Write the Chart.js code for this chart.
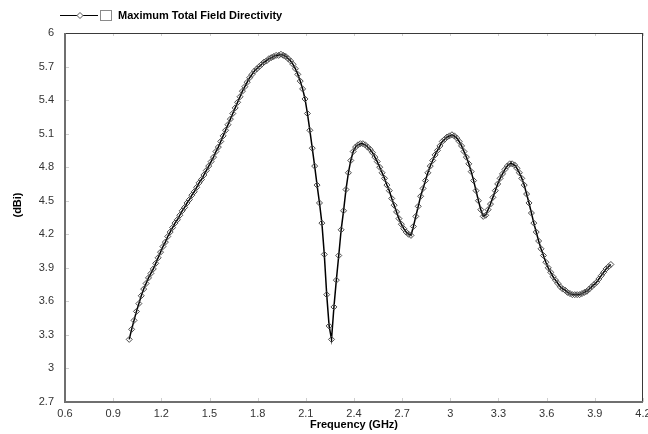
<!DOCTYPE html>
<html lang="en">
<head>
<meta charset="UTF-8">
<title>Maximum Total Field Directivity</title>
<script src="https://cdn.jsdelivr.net/npm/chart.js"></script>
<style>
  body { margin: 0; background: #fff; }
  canvas { display: block; }
</style>
</head>
<body>
<canvas id="dirChart" width="648" height="434"></canvas>
<script>
// frequency sweep (GHz)
var freq = [1.000,1.015,1.030,1.045,1.060,1.075,1.090,1.105,1.120,1.135,
  1.150,1.165,1.180,1.195,1.210,1.225,1.240,1.255,1.270,1.285,
  1.300,1.315,1.330,1.345,1.360,1.375,1.390,1.405,1.420,1.435,
  1.450,1.465,1.480,1.495,1.510,1.525,1.540,1.555,1.570,1.585,
  1.600,1.615,1.630,1.645,1.660,1.675,1.690,1.705,1.720,1.735,
  1.750,1.765,1.780,1.795,1.810,1.825,1.840,1.855,1.870,1.885,
  1.900,1.915,1.930,1.945,1.960,1.975,1.990,2.005,2.020,2.035,
  2.050,2.065,2.080,2.095,2.110,2.125,2.140,2.155,2.170,2.185,
  2.200,2.215,2.230,2.245,2.260,2.275,2.290,2.305,2.320,2.335,
  2.350,2.365,2.380,2.395,2.410,2.425,2.440,2.455,2.470,2.485,
  2.500,2.515,2.530,2.545,2.560,2.575,2.590,2.605,2.620,2.635,
  2.650,2.665,2.680,2.695,2.710,2.725,2.740,2.755,2.770,2.785,
  2.800,2.815,2.830,2.845,2.860,2.875,2.890,2.905,2.920,2.935,
  2.950,2.965,2.980,2.995,3.010,3.025,3.040,3.055,3.070,3.085,
  3.100,3.115,3.130,3.145,3.160,3.175,3.190,3.205,3.220,3.235,
  3.250,3.265,3.280,3.295,3.310,3.325,3.340,3.355,3.370,3.385,
  3.400,3.415,3.430,3.445,3.460,3.475,3.490,3.505,3.520,3.535,
  3.550,3.565,3.580,3.595,3.610,3.625,3.640,3.655,3.670,3.685,
  3.700,3.715,3.730,3.745,3.760,3.775,3.790,3.805,3.820,3.835,
  3.850,3.865,3.880,3.895,3.910,3.925,3.940,3.955,3.970,3.985,
  4.000];

// directivity (dBi)
var directivity = [3.26,3.35,3.43,3.51,3.58,3.65,3.71,3.76,3.81,3.85,
  3.89,3.94,3.99,4.04,4.09,4.13,4.18,4.22,4.26,4.30,
  4.33,4.37,4.41,4.44,4.48,4.51,4.55,4.58,4.62,4.66,
  4.69,4.73,4.77,4.81,4.85,4.89,4.94,4.98,5.03,5.08,
  5.13,5.18,5.23,5.28,5.33,5.38,5.43,5.48,5.52,5.56,
  5.60,5.63,5.66,5.68,5.70,5.72,5.74,5.75,5.77,5.78,
  5.79,5.80,5.80,5.81,5.80,5.79,5.77,5.75,5.72,5.68,
  5.63,5.57,5.50,5.41,5.28,5.13,4.97,4.81,4.64,4.48,
  4.30,4.02,3.66,3.38,3.26,3.55,3.79,4.01,4.24,4.41,
  4.60,4.75,4.86,4.94,4.98,5.00,5.01,5.01,5.00,4.98,
  4.96,4.93,4.89,4.85,4.80,4.75,4.70,4.64,4.59,4.52,
  4.46,4.40,4.34,4.29,4.25,4.22,4.20,4.19,4.27,4.36,
  4.45,4.54,4.61,4.68,4.75,4.81,4.86,4.91,4.95,4.99,
  5.03,5.05,5.07,5.08,5.09,5.08,5.06,5.03,4.99,4.94,
  4.89,4.83,4.76,4.68,4.59,4.50,4.42,4.36,4.37,4.42,
  4.47,4.53,4.59,4.65,4.70,4.74,4.78,4.81,4.83,4.83,
  4.82,4.79,4.75,4.70,4.64,4.56,4.48,4.39,4.30,4.22,
  4.14,4.07,4.01,3.95,3.90,3.86,3.82,3.79,3.76,3.73,
  3.71,3.70,3.68,3.67,3.66,3.66,3.66,3.66,3.67,3.68,
  3.69,3.71,3.73,3.75,3.77,3.80,3.83,3.86,3.89,3.91,
  3.93];

var xTicks = [0.6, 0.9, 1.2, 1.5, 1.8, 2.1, 2.4, 2.7, 3, 3.3, 3.6, 3.9, 4.2];
var yTicks = [2.7, 3, 3.3, 3.6, 3.9, 4.2, 4.5, 4.8, 5.1, 5.4, 5.7, 6];

var seriesName = 'Maximum Total Field Directivity';
var xTitle = 'Frequency (GHz)';
var yTitle = '(dBi)';

function line(ctx, x1, y1, x2, y2) {
    ctx.beginPath();
    ctx.moveTo(x1, y1);
    ctx.lineTo(x2, y2);
    ctx.stroke();
}

function diamond(ctx, cx, cy, r) {
    ctx.beginPath();
    ctx.moveTo(cx, cy - r);
    ctx.lineTo(cx + r, cy);
    ctx.lineTo(cx, cy + r);
    ctx.lineTo(cx - r, cy);
    ctx.closePath();
}

// frame, inner tick marks, legend and y title
const framePlugin = {
    id: 'frame',
    beforeDraw(chart) {
        const ctx = chart.ctx;
        ctx.save();
        ctx.fillStyle = '#fff';
        ctx.fillRect(0, 0, chart.width, chart.height);
        ctx.restore();
    },
    afterDraw(chart) {
        const ctx = chart.ctx;
        const a = chart.chartArea;
        const xs = chart.scales.x, ys = chart.scales.y;
        ctx.save();

        ctx.strokeStyle = '#cfcfcf';
        ctx.lineWidth = 1;
        xTicks.forEach(v => {
            const px = Math.round(xs.getPixelForValue(v)) + 0.5;
            line(ctx, px, a.top, px, a.top + 3);
            line(ctx, px, a.bottom - 4, px, a.bottom);
        });
        yTicks.forEach(v => {
            const py = Math.round(ys.getPixelForValue(v)) + 0.5;
            line(ctx, a.left, py, a.left + 4, py);
        });

        ctx.strokeStyle = '#3a3a3a';
        line(ctx, a.left, a.top + 0.5, a.right, a.top + 0.5);
        line(ctx, a.right - 0.5, a.top, a.right - 0.5, a.bottom);

        ctx.strokeStyle = '#6f6f6f';
        ctx.lineWidth = 2;
        line(ctx, a.left, a.top, a.left, a.bottom + 1);
        line(ctx, a.left - 1, a.bottom, a.right, a.bottom);

        // legend
        ctx.lineWidth = 1;
        ctx.strokeStyle = '#000';
        line(ctx, 60, 15.5, 98, 15.5);
        diamond(ctx, 80, 15.5, 3);
        ctx.fillStyle = '#fff';
        ctx.fill();
        ctx.strokeStyle = '#555';
        ctx.stroke();
        ctx.fillStyle = '#fff';
        ctx.fillRect(100, 10, 12, 11);
        ctx.strokeStyle = '#8a8a8a';
        ctx.strokeRect(100.5, 10.5, 11, 10);
        ctx.fillStyle = '#000';
        ctx.font = 'bold 11px "Liberation Sans", Arial, sans-serif';
        ctx.textBaseline = 'middle';
        ctx.textAlign = 'left';
        ctx.fillText(chart.data.datasets[0].label, 118, 16);

        // y axis title
        ctx.translate(18, 205);
        ctx.rotate(-Math.PI / 2);
        ctx.textAlign = 'center';
        ctx.fillText(yTitle, 0, 0);
        ctx.restore();
    }
};

const ctx = document.getElementById('dirChart').getContext('2d');

const dirChart = new Chart(ctx, {
    type: 'line',
    data: {
        datasets: [{
            label: seriesName,
            data: freq.map((f, i) => ({ x: f, y: directivity[i] })),
            borderColor: '#000',
            borderWidth: 1.5,
            pointStyle: 'rectRot',
            pointRadius: 3,
            pointBorderWidth: 1,
            pointBorderColor: '#4a4a4a',
            pointBackgroundColor: 'rgba(255,255,255,0)',
            tension: 0,
            fill: false
        }]
    },
    options: {
        responsive: false,
        animation: false,
        devicePixelRatio: 1,
        layout: { padding: { top: 33, left: 0, right: 5, bottom: 0 } },
        plugins: {
            legend: { display: false },
            tooltip: { enabled: false }
        },
        scales: {
            x: {
                type: 'linear',
                min: 0.6,
                max: 4.2,
                grid: { display: false, drawTicks: false },
                border: { display: false },
                afterBuildTicks: s => { s.ticks = xTicks.map(v => ({ value: v })); },
                afterFit: s => { s.height = 32; s.paddingLeft = 0; s.paddingRight = 0; },
                ticks: {
                    padding: 5,
                    maxRotation: 0,
                    autoSkip: false,
                    color: '#333',
                    font: { family: '"Liberation Sans", Arial, sans-serif', size: 11 },
                    callback: v => String(v)
                },
                title: {
                    display: true,
                    text: xTitle,
                    color: '#000',
                    padding: { top: 0, bottom: 2 },
                    font: { family: '"Liberation Sans", Arial, sans-serif', size: 11, weight: 'bold' }
                }
            },
            y: {
                min: 2.7,
                max: 6,
                grid: { display: false, drawTicks: false },
                border: { display: false },
                afterBuildTicks: s => { s.ticks = yTicks.map(v => ({ value: v })); },
                afterFit: s => { s.width = 65; s.paddingTop = 0; s.paddingBottom = 0; },
                ticks: {
                    padding: 11,
                    autoSkip: false,
                    color: '#333',
                    font: { family: '"Liberation Sans", Arial, sans-serif', size: 11 },
                    callback: v => String(v)
                }
            }
        }
    },
    plugins: [framePlugin]
});
</script>
</body>
</html>
